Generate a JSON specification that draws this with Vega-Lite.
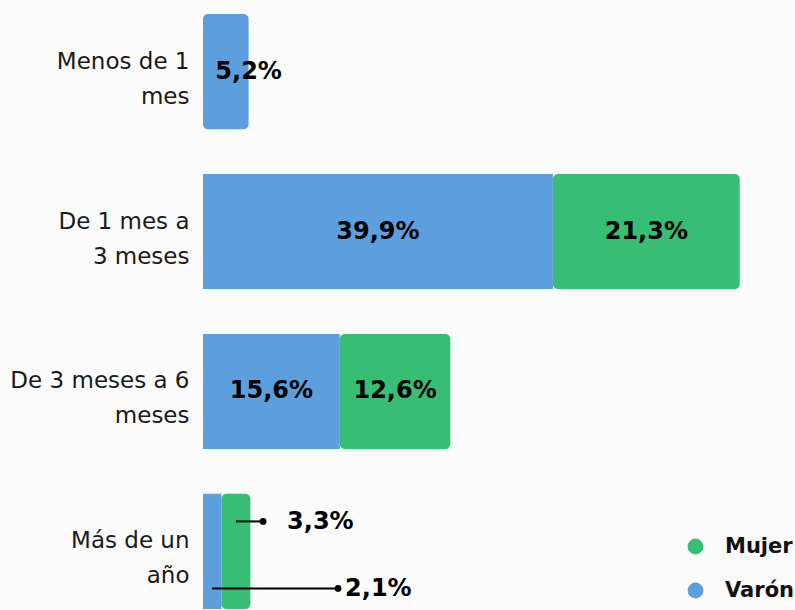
{
  "$schema": "https://vega.github.io/schema/vega-lite/v6.json",
  "width": 592,
  "height": 623,
  "autosize": "none",
  "padding": {"left": 203, "top": 0, "right": 0, "bottom": 0},
  "background": "#fbfbfb",
  "config": {"view": {"stroke": null}, "font": "DejaVu Sans"},
  "data": {
    "values": [
      {"cat": "Menos de 1 mes", "sexo": "Varón", "value": 5.2, "ord": 1},
      {"cat": "De 1 mes a 3 meses", "sexo": "Varón", "value": 39.9, "ord": 1},
      {"cat": "De 1 mes a 3 meses", "sexo": "Mujer", "value": 21.3, "ord": 2},
      {"cat": "De 3 meses a 6 meses", "sexo": "Varón", "value": 15.6, "ord": 1},
      {"cat": "De 3 meses a 6 meses", "sexo": "Mujer", "value": 12.6, "ord": 2},
      {"cat": "Más de un año", "sexo": "Varón", "value": 2.1, "ord": 1},
      {"cat": "Más de un año", "sexo": "Mujer", "value": 3.3, "ord": 2}
    ]
  },
  "transform": [
    {"stack": "value", "groupby": ["cat"], "sort": [{"field": "ord"}], "as": ["v0", "v1"]},
    {"joinaggregate": [{"op": "max", "field": "v1", "as": "vmax"}], "groupby": ["cat"]},
    {"calculate": "datum.v1 == datum.vmax", "as": "isLast"},
    {"calculate": "(datum.v0 + datum.v1) / 2", "as": "mid"},
    {"calculate": "datum.cat == 'Menos de 1 mes' ? datum.v1 : datum.mid", "as": "lx"},
    {"calculate": "replace(format(datum.value, '.1f'), '.', ',') + '%'", "as": "label"}
  ],
  "encoding": {
    "y": {
      "field": "cat",
      "type": "nominal",
      "sort": ["Menos de 1 mes", "De 1 mes a 3 meses", "De 3 meses a 6 meses", "Más de un año"],
      "scale": {"paddingInner": 0.28, "paddingOuter": 0.0875},
      "axis": {
        "title": null,
        "domain": false,
        "ticks": false,
        "labelPadding": 14,
        "labelFontSize": 23,
        "labelColor": "#1a1a1a",
        "labelLineHeight": 35,
        "labelOffset": -10,
        "labelExpr": "datum.value == 'Menos de 1 mes' ? ['Menos de 1','mes'] : datum.value == 'De 1 mes a 3 meses' ? ['De 1 mes a','3 meses'] : datum.value == 'De 3 meses a 6 meses' ? ['De 3 meses a 6','meses'] : ['Más de un','año']"
      }
    }
  },
  "layer": [
    {
      "transform": [{"filter": "!datum.isLast"}],
      "mark": {"type": "bar"},
      "encoding": {
        "x": {"field": "v0", "type": "quantitative", "scale": {"domain": [0, 67.5], "nice": false}, "axis": null},
        "x2": {"field": "v1"},
        "color": {
          "field": "sexo",
          "type": "nominal",
          "scale": {"domain": ["Mujer", "Varón"], "range": ["#37bd74", "#5c9fdc"]},
          "legend": {
            "title": null,
            "orient": "none",
            "legendX": 482,
            "legendY": 536,
            "padding": 0,
            "symbolType": "circle",
            "symbolSize": 250,
            "symbolStrokeWidth": 0,
            "labelFontSize": 21,
            "labelFontWeight": "bold",
            "labelColor": "#111111",
            "labelOffset": 19,
            "rowPadding": 22
          }
        }
      }
    },
    {
      "transform": [{"filter": "datum.isLast"}],
      "mark": {"type": "bar", "cornerRadiusEnd": 5},
      "encoding": {
        "x": {"field": "v0", "type": "quantitative"},
        "x2": {"field": "v1"},
        "color": {"field": "sexo", "type": "nominal"}
      }
    },
    {
      "transform": [{"filter": "datum.cat != 'Más de un año'"}],
      "mark": {"type": "text", "fontSize": 24, "fontWeight": "bold", "color": "#000000"},
      "encoding": {
        "x": {"field": "lx", "type": "quantitative"},
        "text": {"field": "label"}
      }
    },
    {
      "transform": [{"filter": "datum.cat == 'Más de un año' && datum.sexo == 'Mujer'"}],
      "mark": {"type": "rule", "strokeWidth": 2, "color": "#000000", "yOffset": -30},
      "encoding": {
        "x": {"field": "mid", "type": "quantitative"},
        "x2": {"datum": 6.85}
      }
    },
    {
      "transform": [{"filter": "datum.cat == 'Más de un año' && datum.sexo == 'Mujer'"}],
      "mark": {"type": "point", "filled": true, "size": 45, "color": "#000000", "opacity": 1, "yOffset": -30},
      "encoding": {"x": {"datum": 6.85}}
    },
    {
      "transform": [{"filter": "datum.cat == 'Más de un año' && datum.sexo == 'Mujer'"}],
      "mark": {"type": "text", "fontSize": 24, "fontWeight": "bold", "color": "#000000", "align": "left", "dx": 24, "yOffset": -29},
      "encoding": {"x": {"datum": 6.85}, "text": {"field": "label"}}
    },
    {
      "transform": [{"filter": "datum.cat == 'Más de un año' && datum.sexo == 'Varón'"}],
      "mark": {"type": "rule", "strokeWidth": 2, "color": "#000000", "yOffset": 37},
      "encoding": {
        "x": {"field": "mid", "type": "quantitative"},
        "x2": {"datum": 15.4}
      }
    },
    {
      "transform": [{"filter": "datum.cat == 'Más de un año' && datum.sexo == 'Varón'"}],
      "mark": {"type": "point", "filled": true, "size": 45, "color": "#000000", "opacity": 1, "yOffset": 37},
      "encoding": {"x": {"datum": 15.4}}
    },
    {
      "transform": [{"filter": "datum.cat == 'Más de un año' && datum.sexo == 'Varón'"}],
      "mark": {"type": "text", "fontSize": 24, "fontWeight": "bold", "color": "#000000", "align": "left", "dx": 7, "yOffset": 38},
      "encoding": {"x": {"datum": 15.4}, "text": {"field": "label"}}
    }
  ]
}
